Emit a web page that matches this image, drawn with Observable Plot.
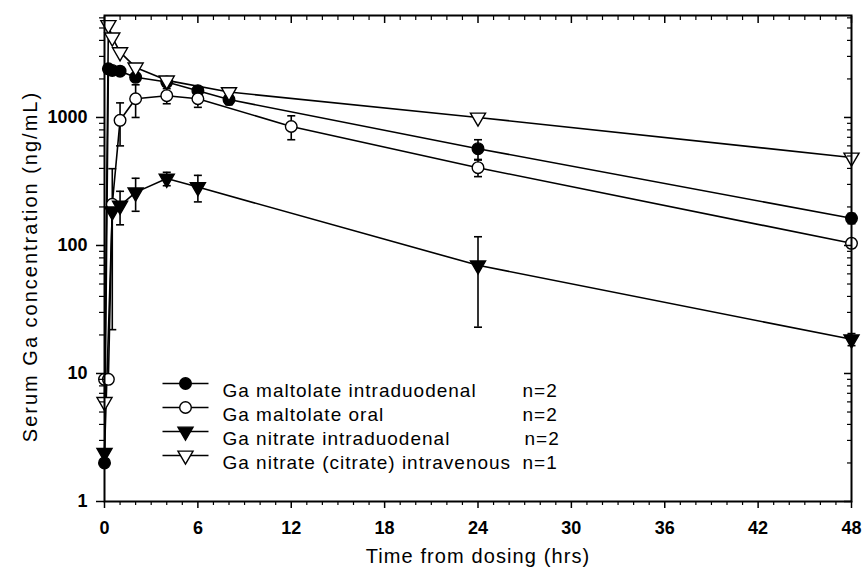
<!DOCTYPE html>
<html><head><meta charset="utf-8">
<script src="https://cdn.jsdelivr.net/npm/d3@7"></script>
<script src="https://cdn.jsdelivr.net/npm/@observablehq/plot@0.6"></script>
<style>body{margin:0;background:#fff;}</style>
</head><body><div id="chart"></div>
<script>
// ---- data ----
const seriesNames = ["Ga maltolate intraduodenal", "Ga maltolate oral", "Ga nitrate intraduodenal", "Ga nitrate (citrate) intravenous"];
const seriesN = ["n=2", "n=2", "n=2", "n=1"];

const maltIdTime = [0, 0.25, 0.5, 1, 2, 4, 6, 8, 24, 48];
const maltIdConc = [2, 2400, 2330, 2300, 2060, 1890, 1620, 1380, 570, 163];
const maltIdSd   = [null, 100, 100, 100, 120, 120, 110, 120, 100, 15];

const maltOrTime = [0, 0.25, 0.5, 1, 2, 4, 6, 12, 24, 48];
const maltOrConc = [9, 9, 210, 950, 1400, 1480, 1400, 850, 405, 104];
const maltOrSd   = [null, null, 188, 350, 400, 200, 200, 180, 60, 8];

const nitIdTime = [0, 0.5, 1, 2, 4, 6, 24, 48];
const nitIdConc = [2.4, 185, 205, 260, 333, 286, 70, 18.5];
const nitIdSd   = [null, null, 60, 75, 40, 67, 47, 2];

const ivTime = [0, 0.25, 0.5, 1, 2, 4, 8, 24, 48];
const ivConc = [6, 5280, 4220, 3240, 2460, 1950, 1580, 1000, 487];

const xMajor = [0, 6, 12, 18, 24, 30, 36, 42, 48];
const xMinor = d3.range(0, 49, 1).filter(d => d % 6 !== 0);
const yMajor = [1, 10, 100, 1000];
const yMinor = [1, 10, 100, 1000].flatMap(p => [2,3,4,5,6,7,8,9].map(m => m * p)).filter(v => v < 6260);

const xTitle = "Time from dosing (hrs)";
const yTitle = "Serum Ga concentration (ng/mL)";

// ---- build rows ----
function rows(name, t, c, sd) {
  return t.map((tt, i) => ({series: name, t: tt, c: c[i],
    lo: sd && sd[i] != null ? c[i] - sd[i] : null,
    hi: sd && sd[i] != null ? c[i] + sd[i] : null}));
}
const groups = [
  rows(seriesNames[0], maltIdTime, maltIdConc, maltIdSd),
  rows(seriesNames[1], maltOrTime, maltOrConc, maltOrSd),
  rows(seriesNames[2], nitIdTime, nitIdConc, nitIdSd),
  rows(seriesNames[3], ivTime, ivConc, null)
];
const all = groups.flat();
const errs = all.filter(d => d.lo != null);

const styles = [
  {symbol: "circle", fill: "black", r: 5.8, rotate: 0},
  {symbol: "circle", fill: "white", r: 5.8, rotate: 0},
  {symbol: "triangle", fill: "black", r: 5.6, rotate: 180},
  {symbol: "triangle", fill: "white", r: 5.6, rotate: 180}
];

const capSymbol = {draw(ctx) { ctx.moveTo(-4, 0); ctx.lineTo(4, 0); }};
const legendLine = {draw(ctx) { ctx.moveTo(-23, 0); ctx.lineTo(23, 0); }};

const SW = 1.6;
const marks = [
  Plot.line(all, {x: "t", y: "c", z: "series", stroke: "black", strokeWidth: SW}),
  Plot.ruleX(errs, {x: "t", y1: "lo", y2: "hi", stroke: "black", strokeWidth: SW}),
  Plot.dot(errs, {x: "t", y: "lo", symbol: capSymbol, stroke: "black", strokeWidth: SW}),
  Plot.dot(errs, {x: "t", y: "hi", symbol: capSymbol, stroke: "black", strokeWidth: SW}),
  ...groups.map((g, i) => Plot.dot(g, {x: "t", y: "c", symbol: styles[i].symbol, r: styles[i].r,
      rotate: styles[i].rotate, fill: styles[i].fill, stroke: "black", strokeWidth: 1.4})),
  // axes
  Plot.axisX({ticks: xMajor, tickSize: 7, tickPadding: 13, fontWeight: "bold", fontSize: 18, label: null, tickFormat: d => String(d), strokeWidth: 1.5, fill: "black"}),
  Plot.axisX({ticks: xMinor, tickSize: 4, tickFormat: () => "", label: null, strokeWidth: 1.2}),
  Plot.axisX({anchor: "top", ticks: xMajor, tickSize: -7, tickFormat: () => "", label: null, strokeWidth: 1.5}),
  Plot.axisX({anchor: "top", ticks: xMinor, tickSize: -4, tickFormat: () => "", label: null, strokeWidth: 1.2}),
  Plot.axisY({ticks: yMajor, tickSize: 8, tickPadding: 9, fontWeight: "bold", fontSize: 18, label: null, tickFormat: d => String(d), strokeWidth: 1.5, fill: "black"}),
  Plot.axisY({ticks: yMinor, tickSize: 5, tickFormat: () => "", label: null, strokeWidth: 1.2}),
  Plot.axisY({anchor: "right", ticks: yMajor, tickSize: -8, tickFormat: () => "", label: null, strokeWidth: 1.5}),
  Plot.axisY({anchor: "right", ticks: yMinor, tickSize: -5, tickFormat: () => "", label: null, strokeWidth: 1.2}),
  Plot.frame({stroke: "black", strokeWidth: 2}),
  // titles
  Plot.text([xTitle], {x: null, y: null, frameAnchor: "bottom", dy: 61, text: d => d, fontSize: 20, fill: "black", textAnchor: "middle"}),
  Plot.text([yTitle], {x: null, y: null, frameAnchor: "left", dx: -74, dy: 8, rotate: -90, text: d => d, fontSize: 20, fill: "black", textAnchor: "middle"}),
];

// legend
seriesNames.forEach((name, i) => {
  const dy = 368 + 24 * i;
  marks.push(
    Plot.dot([name], {x: null, y: null, frameAnchor: "top-left", dx: 81, dy, symbol: legendLine, stroke: "black", strokeWidth: SW}),
    Plot.dot([name], {x: null, y: null, frameAnchor: "top-left", dx: 81, dy, symbol: styles[i].symbol, r: styles[i].r,
      rotate: styles[i].rotate, fill: styles[i].fill, stroke: "black", strokeWidth: 1.4}),
    Plot.text([name], {x: null, y: null, frameAnchor: "top-left", dx: 118, dy, text: d => d, textAnchor: "start", fontSize: 19, fill: "black"}),
    Plot.text([seriesN[i]], {x: null, y: null, frameAnchor: "top-left", dx: i === 2 ? 420 : 418, dy, text: d => d, textAnchor: "start", fontSize: 19, fill: "black"})
  );
});

const chart = Plot.plot({
  width: 862, height: 572,
  marginLeft: 104, marginRight: 11, marginTop: 15, marginBottom: 71,
  style: {fontFamily: "'Liberation Sans', Arial, sans-serif", color: "black", background: "white"},
  x: {domain: [0, 48]},
  y: {type: "log", domain: [1, 6260]},
  marks
});
const spacing = new Map([[xTitle, "1.1px"], [yTitle, "2px"]]);
seriesNames.forEach(s => spacing.set(s, "1px"));
seriesN.forEach(s => spacing.set(s, "1px"));
d3.select(chart).selectAll("text").each(function () {
  const t = this.textContent;
  if (spacing.has(t)) this.style.letterSpacing = spacing.get(t);
});
document.getElementById("chart").appendChild(chart);
</script>
</body></html>
